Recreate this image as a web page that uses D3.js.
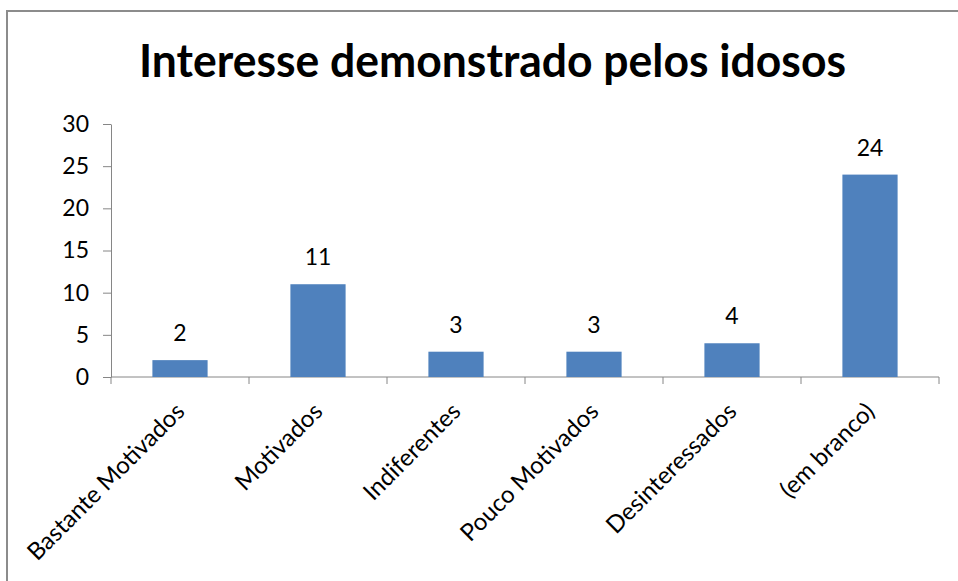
<!DOCTYPE html>
<html lang="pt">
<meta charset="utf-8">
<head>
<title>Interesse demonstrado pelos idosos</title>
<style>
  body { margin: 0; background: #fff; }
  text { font-family: Lato, "Open Sans", sans-serif; fill: #000; }
  .axis path, .axis line { stroke: #868686; }
  .axis text { font-size: 23px; fill: #000; }
  .axis--x text { font-size: 24px; }
  .bar { fill: #4f81bd; }
  .val { font-size: 23px; text-anchor: middle; }
</style>
</head>
<body>
<svg width="958" height="581"></svg>
<script src="https://cdn.jsdelivr.net/npm/d3@7"></script>
<script>

var categories = ["Bastante Motivados", "Motivados", "Indiferentes", "Pouco Motivados", "Desinteressados", "(em branco)"];
var values = [2, 11, 3, 3, 4, 24];
var yTicks = [0, 5, 10, 15, 20, 25, 30];
var title = "Interesse demonstrado pelos idosos";

var svg = d3.select("svg"),
    margin = {top: 124, right: 19, bottom: 204, left: 111},
    width = +svg.attr("width") - margin.left - margin.right,
    height = +svg.attr("height") - margin.top - margin.bottom;

// chart area frame (runs past the right and bottom edge)
svg.append("rect")
    .attr("x", 7).attr("y", 11)
    .attr("width", 1000).attr("height", 1000)
    .attr("fill", "none")
    .attr("stroke", "#8c8c8c")
    .attr("stroke-width", 2);

svg.append("text")
    .attr("x", 139).attr("y", 77)
    .attr("textLength", 707)
    .attr("lengthAdjust", "spacingAndGlyphs")
    .style("font-size", "45px")
    .style("font-weight", "bold")
    .text(title);

var g = svg.append("g").attr("transform", "translate(" + margin.left + "," + margin.top + ")");

var x = d3.scaleBand()
    .domain(categories)
    .range([0, width])
    .paddingInner(0.6)
    .paddingOuter(0.3);

var y = d3.scaleLinear().domain([0, 30]).range([height, 0]);

var step = x.step();

// y axis
g.append("g")
    .attr("class", "axis axis--y")
    .call(d3.axisLeft(y).tickValues(yTicks).tickSize(8).tickPadding(14).tickSizeOuter(0));

// x axis: baseline + tick marks between categories
var xa = g.append("g")
    .attr("class", "axis axis--x")
    .attr("transform", "translate(0," + height + ")");

xa.append("line").attr("x1", 0).attr("x2", width).attr("y1", 0).attr("y2", 0);
xa.selectAll(".tk")
    .data(d3.range(categories.length + 1))
    .enter().append("line")
    .attr("class", "tk")
    .attr("x1", function(i) { return i * step; })
    .attr("x2", function(i) { return i * step; })
    .attr("y1", 0).attr("y2", 7);

xa.selectAll(".lbl")
    .data(categories)
    .enter().append("text")
    .attr("class", "lbl")
    .attr("text-anchor", "end")
    .attr("transform", function(d) {
      return "translate(" + (x(d) + x.bandwidth() / 2 + 6) + ",36) rotate(-45)";
    })
    .text(function(d) { return d; });

g.selectAll(".bar")
    .data(values)
    .enter().append("rect")
    .attr("class", "bar")
    .attr("x", function(d, i) { return x(categories[i]); })
    .attr("y", function(d) { return y(d); })
    .attr("width", x.bandwidth())
    .attr("height", function(d) { return height - y(d); });

g.selectAll(".val")
    .data(values)
    .enter().append("text")
    .attr("class", "val")
    .attr("x", function(d, i) { return x(categories[i]) + x.bandwidth() / 2; })
    .attr("y", function(d) { return y(d) - 19; })
    .text(function(d) { return d; });

</script>
</body>
</html>
